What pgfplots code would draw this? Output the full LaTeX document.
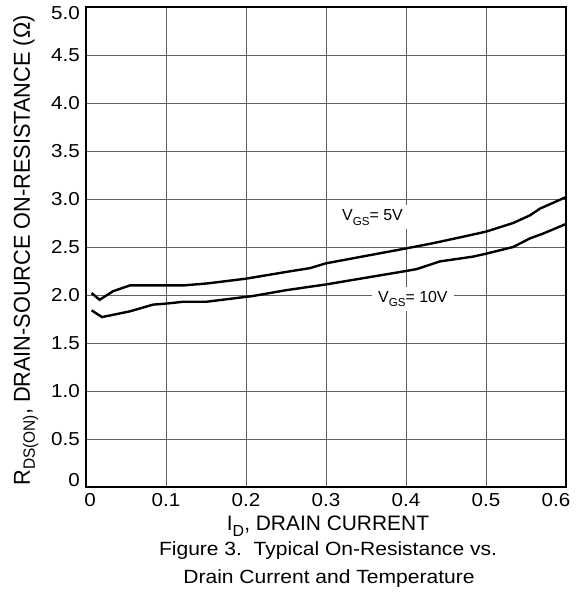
\documentclass[border=0pt]{standalone}
\usepackage{fontspec}
\usepackage{pgfplots}
\pgfplotsset{compat=1.18}
\setmainfont{Liberation Sans}
\newfontfamily\widesans{Liberation Sans}[FakeStretch=1.1]
\newcommand\tickfont{\widesans\fontsize{18.8}{22}\selectfont}
\newcommand\capfont{\widesans\fontsize{19.2}{22}\selectfont}
\newcommand\labfont{\fontsize{21}{25}\selectfont}
\newcommand\ylabfont{\fontsize{21.8}{25}\selectfont}
\newcommand\vfont{\fontsize{16}{19}\selectfont}

\begin{document}
\begin{tikzpicture}
\path[use as bounding box] (-86bp,-109bp) rectangle (491bp,487bp);
\begin{axis}[
  at={(0,0)}, anchor=south west,
  width=480bp, height=480bp, scale only axis,
  xmin=0, xmax=0.6, ymin=0, ymax=5,
  xtick={0,0.1,0.2,0.3,0.4,0.5,0.6},
  xticklabels={\makebox[0pt]{\hspace*{8bp}0},0.1,0.2,0.3,0.4,0.5,\makebox[0pt]{\hspace*{-20bp}0.6}},
  ytick={0,0.5,1,1.5,2,2.5,3,3.5,4,4.5,5},
  yticklabels={\raisebox{7bp}[\height][\depth]{0},0.5,1.0,1.5,2.0,2.5,3.0,3.5,4.0,4.5,\raisebox{-6.5bp}[\height][\depth]{5.0}},
  /pgf/number format/assume math mode=true,
  grid=major,
  major grid style={draw=black!62, line width=0.9bp},
  axis line style={black, line width=1.3bp},
  major tick length=0pt,
  ticklabel style={font=\tickfont},
  xticklabel style={inner sep=0pt, yshift=-6bp},
  yticklabel style={inner sep=0pt, xshift=-6bp},
]
% V_GS = 5V
\addplot[black, line width=2.4bp] coordinates {
(0.007,2.02) (0.017,1.95) (0.034,2.04) (0.055,2.10) (0.122,2.10)
(0.151,2.12) (0.200,2.17) (0.250,2.24) (0.280,2.28) (0.300,2.33)
(0.400,2.485) (0.434,2.54) (0.4675,2.60) (0.500,2.66) (0.534,2.75)
(0.555,2.83) (0.5675,2.90) (0.600,3.02)
};
% V_GS = 10V
\addplot[black, line width=2.4bp] coordinates {
(0.007,1.84) (0.020,1.77) (0.055,1.83) (0.084,1.90) (0.100,1.91)
(0.122,1.93) (0.151,1.93) (0.209,1.99) (0.250,2.05) (0.300,2.11)
(0.400,2.25) (0.4134,2.27) (0.4425,2.35) (0.484,2.40) (0.500,2.43)
(0.534,2.50) (0.555,2.59) (0.5715,2.64) (0.600,2.74)
};
\node[fill=white, inner xsep=6bp, inner ysep=4bp, anchor=base west, font=\vfont]
  at (axis cs:0.3125,2.781) {V\raisebox{-5pt}{\fontsize{11.6}{12}\selectfont GS}= 5V};
\node[fill=white, inner xsep=6bp, inner ysep=4bp, anchor=base west, font=\vfont]
  at (axis cs:0.3575,1.927) {V\raisebox{-5pt}{\fontsize{11.6}{12}\selectfont GS}= 10V};
\end{axis}
\node[rotate=90, anchor=base, font=\ylabfont] at (-56bp,236.5bp)
  {\scalebox{1}[1.06]{R\raisebox{-4.5pt}{\fontsize{15.5}{15.5}\selectfont DS(ON)}, DRAIN-SOURCE ON-RESISTANCE (Ω)}};
\node[anchor=base, font=\labfont] at (242bp,-43bp)
  {I\raisebox{-6.5pt}{\fontsize{16}{16}\selectfont D}, DRAIN CURRENT};
\node[anchor=base, font=\capfont] at (242bp,-68bp) {Figure 3.\ \ Typical On-Resistance vs.};
\node[anchor=base, font=\capfont] at (243bp,-96bp) {Drain Current and Temperature};
\end{tikzpicture}
\end{document}
